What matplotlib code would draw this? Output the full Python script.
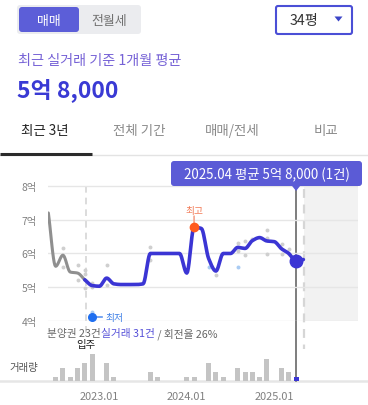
import numpy as np
import matplotlib
matplotlib.use('Agg')
import matplotlib.pyplot as plt
from matplotlib import transforms
from matplotlib.patches import FancyBboxPatch, Rectangle, Polygon

plt.rcParams['font.family'] = ['Noto Sans CJK KR', 'DejaVu Sans']

W, H = 368, 406

# months are counted from 2023.01 (= 0)
presale_months = [-7, -6, -5, -4, -3, -2]
presale_price = [7.2, 5.62, 5.95, 5.45, 5.42, 5.22]

trade_months = list(range(-2, 29))
trade_price = [5.22, 5.05, 5.03, 5.27, 5.1, 5.08, 5.08, 5.08, 5.1, 6.0,
               6.0, 6.0, 6.0, 6.0, 5.42, 6.78, 6.74, 5.85, 5.48, 6.0,
               6.0, 6.18, 6.15, 6.38, 6.47, 6.37, 6.35, 6.14, 6.0, 5.77, 5.82]

# individual deals (억)
deal_months = [-5, -5, -3, -3, -2, -2, -2, -1, -1, 1, 1, 7, 7, 16, 19, 19,
               20, 20, 21, 23, 23, 23, 25, 25, 26, 26]
deal_prices = [6.15, 5.6, 5.67, 5.22, 5.5, 5.38, 4.98, 5.13, 5.0, 5.65, 5.07,
               6.18, 5.82, 5.35, 6.3, 6.08, 6.38, 5.95, 6.42, 6.7, 6.45, 5.97,
               6.27, 5.97, 6.13, 5.97]
direct_months = [-1, 15, 19]
direct_prices = [4.27, 5.6, 5.6]

# monthly volume
vol_months = [-6, -5, -4, -3, -2, -1, 1, 2, 7, 8, 12, 13, 15, 16, 17, 19, 20,
              21, 22, 23, 25, 26, 27]
vol_counts = [1, 3, 1, 3, 4, 6, 4, 1, 2, 1, 1, 1, 4, 2, 1, 3, 2, 2, 1, 5, 3,
              2, 1]

x_ticks = [0, 12, 24]
x_labels = ['2023.01', '2024.01', '2025.01']
y_ticks = [4, 5, 6, 7, 8]
y_labels = ['4억', '5억', '6억', '7억', '8억']

high_month = 13
movein_month = -1.9
selected_month = 27
today_month = 28.15
tooltip_text = '2025.04 평균 5억 8,000 (1건)'

BLUE = '#3b35d4'


def px_box(l, t, r, b):
    """pixel box -> figure fraction rect"""
    return [l / W, 1 - b / H, (r - l) / W, (b - t) / H]


def smooth(x, y, n=10):
    """monotone cubic curve through the points (drawing only)"""
    x = np.asarray(x, float)
    y = np.asarray(y, float)
    h = np.diff(x)
    d = np.diff(y) / h
    m = np.zeros_like(y)
    m[0], m[-1] = d[0], d[-1]
    for i in range(1, len(y) - 1):
        if d[i - 1] * d[i] > 0:
            w1 = 2 * h[i] + h[i - 1]
            w2 = h[i] + 2 * h[i - 1]
            m[i] = (w1 + w2) / (w1 / d[i - 1] + w2 / d[i])
    xs, ys = [], []
    t = np.linspace(0, 1, n, endpoint=False)
    for i in range(len(x) - 1):
        h00 = 2 * t**3 - 3 * t**2 + 1
        h10 = t**3 - 2 * t**2 + t
        h01 = -2 * t**3 + 3 * t**2
        h11 = t**3 - t**2
        ys.append(h00 * y[i] + h10 * h[i] * m[i] + h01 * y[i + 1] + h11 * h[i] * m[i + 1])
        xs.append(x[i] + t * h[i])
    xs.append([x[-1]])
    ys.append([y[-1]])
    return np.concatenate(xs), np.concatenate(ys)


fig = plt.figure(figsize=(W / 100, H / 100), dpi=100)

# background layer in pixel coordinates
ui = fig.add_axes([0, 0, 1, 1], zorder=0)
ui.set_xlim(0, W)
ui.set_ylim(H, 0)
ui.axis('off')

# price chart
ax = fig.add_axes(px_box(48, 165, 358, 322), zorder=2)
ax.set_xlim(-7.05, 35.5)
ax.set_ylim(4.0, 8.65)
ax.patch.set_alpha(0)
for s in ax.spines.values():
    s.set_visible(False)
ax.set_xticks([])
ax.set_yticks(y_ticks)
ax.set_yticklabels(y_labels, fontsize=7.4, color='#808080')
ax.tick_params(axis='y', length=0, pad=8)
ax.yaxis.grid(True, color='#e6e6e6', lw=1)
ax.set_axisbelow(True)

# volume bars
bx = fig.add_axes(px_box(48, 340, 358, 382), zorder=2)
bx.set_xlim(ax.get_xlim())
bx.set_ylim(0, 9.5)
bx.patch.set_alpha(0)
for s in bx.spines.values():
    s.set_visible(False)
bx.set_yticks([])
bx.set_xticks(x_ticks)
bx.set_xticklabels(x_labels, fontsize=7.9, color='#808080')
bx.tick_params(axis='x', length=0, pad=7)
bar_colors = [BLUE if m == selected_month else '#c4c4c4' for m in vol_months]
bx.bar(vol_months, vol_counts, width=0.7, color=bar_colors)

# ---- header ----
ui.add_patch(FancyBboxPatch((17, 6), 124, 29, boxstyle='round,pad=0,rounding_size=3',
                            fc='#ebecef', ec='none'))
ui.add_patch(FancyBboxPatch((19, 8), 60, 25, boxstyle='round,pad=0,rounding_size=3',
                            fc='#5c5ed8', ec='none'))
ui.text(49, 21, '매매', color='white', fontsize=9.3, ha='center', va='center')
ui.text(109, 21, '전월세', color='#707070', fontsize=9.3, ha='center', va='center')

ui.add_patch(FancyBboxPatch((276, 7), 76, 28, boxstyle='round,pad=0,rounding_size=2',
                            fc='white', ec='#4b4fd6', lw=1.5))
ui.text(304, 21.5, '34평', color='#333333', fontsize=10.2, ha='center', va='center')
ui.add_patch(Polygon([(334.5, 17.5), (342.5, 17.5), (338.5, 22.5)], closed=True,
                     fc='#3b45c8', ec='none'))

ui.text(18, 61, '최근 실거래 기준 1개월 평균', color='#7662d6', fontsize=10.2,
        ha='left', va='center')
ui.text(17, 90, '5억 8,000', color='#3a3ad4', fontsize=16.5, fontweight='bold',
        ha='left', va='center')

# ---- tabs ----
tabs = ['최근 3년', '전체 기간', '매매/전세', '비교']
tab_x = [45, 139, 232, 326]
for name, x in zip(tabs, tab_x):
    ui.text(x, 131, name, fontsize=9.7, ha='center', va='center',
            color='#222222' if name == tabs[0] else '#8a8a8a')
ui.plot([0, W], [155.5, 155.5], color='#e3e3e3', lw=1)
ui.plot([0, 92], [154.5, 154.5], color='#2b2b2b', lw=2.2, solid_capstyle='butt')

# ---- reference lines / shading behind the chart ----
bl = transforms.blended_transform_factory(ax.transData, ui.transData)
x_right = ax.get_xlim()[1]
ui.add_patch(Rectangle((today_month, 162), x_right - today_month, 160,
                       transform=bl, fc='#f2f2f2', ec='none'))
ui.plot([today_month, today_month], [190, 350], transform=bl, color='#d6d6d6',
        lw=1.6, dashes=(4, 3))
ui.plot([movein_month, movein_month], [187, 338], transform=bl, color='#d6d6d6',
        lw=1.2, dashes=(4, 3))
ui.plot([selected_month, selected_month], [188, 382], transform=bl, color='#5a5a5a',
        lw=1.1)
ui.text(movein_month, 345.5, '입주', transform=bl, fontsize=7.5, color='#222222',
        ha='center', va='center')
ui.plot([0, W], [382, 382], color='#e6e6e6', lw=1.8, zorder=0)
ui.text(24, 368, '거래량', fontsize=7.5, color='#555555', ha='center', va='center')

# ---- summary line ----
t1 = ui.text(47, 334, '분양권 23건', fontsize=7.7, color='#666666', ha='left',
             va='center')
t2 = ui.annotate('실거래 31건', xy=(1, 0.5), xycoords=t1, fontsize=7.7,
                 color='#5550d8', ha='left', va='center')
ui.annotate(' / 회전율 26%', xy=(1, 0.5), xycoords=t2, fontsize=7.7,
            color='#666666', ha='left', va='center')

# ---- price lines ----
ax.scatter(deal_months, deal_prices, s=8, color='#cfcfcf', lw=0, zorder=2)
ax.scatter(direct_months, direct_prices, s=8, color='#a9cbf3', lw=0, zorder=2)

sx, sy = smooth(presale_months, presale_price)
ax.plot(sx, sy, color='#8f8f8f', lw=2.2, solid_capstyle='round', zorder=3)
sx, sy = smooth(trade_months, trade_price)
ax.plot(sx, sy, color=BLUE, lw=2.6, solid_capstyle='round', zorder=4)

# highest marker
hi_val = trade_price[trade_months.index(high_month)]
ax.plot(high_month, hi_val, 'o', ms=6, color='#ff5a1f', zorder=6)
ax.annotate('', xy=(high_month, hi_val), xytext=(0, 11), textcoords='offset pixels',
            arrowprops=dict(arrowstyle='-', color='#f5a38d', lw=1.2,
                            shrinkA=0, shrinkB=2))
ax.annotate('최고', xy=(high_month, hi_val), xytext=(0, 17), textcoords='offset pixels',
            fontsize=7, color='#f27a56', ha='center', va='center')

# lowest marker
lo_i = int(np.argmin(direct_prices))
lo_m, lo_v = direct_months[lo_i], direct_prices[lo_i]
down = transforms.offset_copy(ax.transData, fig, y=-5, units='dots')
ax.plot(lo_m, lo_v, 'o', ms=5.5, color='#1f6ff0', transform=down, zorder=6,
        clip_on=False)
ax.plot([lo_m, lo_m + 1.35], [lo_v, lo_v], color='#5d95f0', lw=1.2,
        transform=down, clip_on=False, zorder=5)
ax.annotate('최저', xy=(lo_m, lo_v), xytext=(13, -5), textcoords='offset pixels',
            fontsize=7, color='#3d7fe6', ha='left', va='center',
            annotation_clip=False)

# selected month dot
sel_val = trade_price[trade_months.index(selected_month)]
ax.plot(selected_month, sel_val, 'o', ms=9, color=BLUE, zorder=7)

# ---- tooltip on top ----
top = fig.add_axes([0, 0, 1, 1], zorder=5)
top.set_xlim(0, W)
top.set_ylim(H, 0)
top.axis('off')
top.add_patch(FancyBboxPatch((171, 162), 191, 25, boxstyle='round,pad=0,rounding_size=3',
                             fc='#5b5bd6', ec='none'))
tb = transforms.blended_transform_factory(ax.transData, top.transData)
top.add_patch(Polygon([(selected_month - 0.6, 186.5), (selected_month + 0.6, 186.5),
                       (selected_month, 192)], closed=True, transform=tb,
                      fc='#5b5bd6', ec='none'))
top.text(266.5, 174.5, tooltip_text, color='white', fontsize=9.6, ha='center',
         va='center')

fig.savefig('out.png', dpi=100)
